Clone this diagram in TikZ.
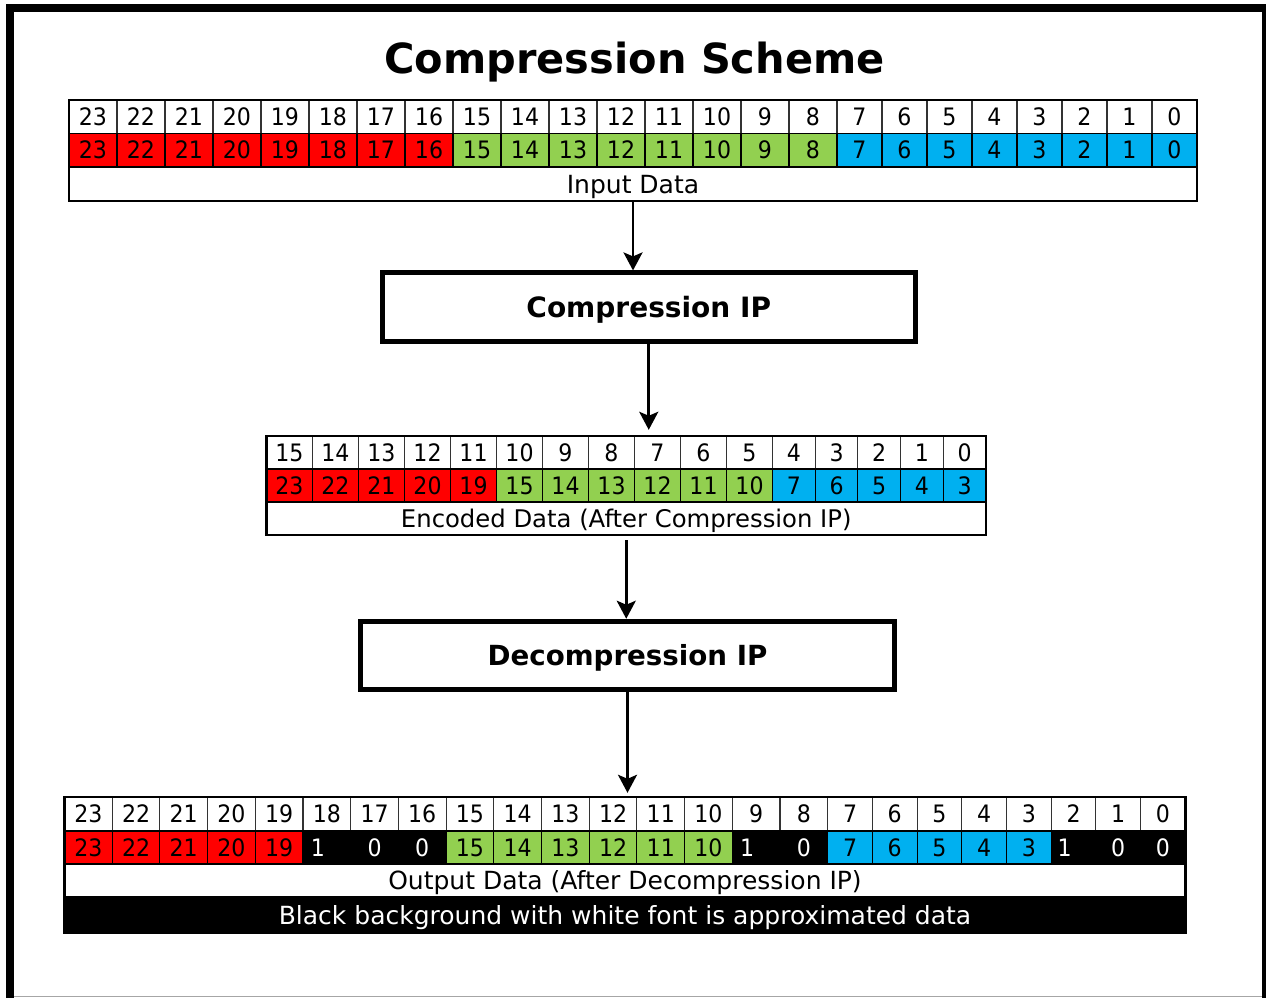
\documentclass[tikz,border=0pt]{standalone}
\usepackage{fontspec}
\setmainfont{DejaVu Sans}
\newfontfamily\digitfont[FakeStretch=0.92]{DejaVu Sans}
\usetikzlibrary{arrows.meta}
\definecolor{cred}{RGB}{255,0,0}
\definecolor{cgreen}{RGB}{146,208,80}
\definecolor{cblue}{RGB}{0,176,240}
\begin{document}
\begin{tikzpicture}[x=1pt,y=-1pt,
  cell/.style={draw=black, line width=1.1pt, inner sep=0pt, font=\digitfont\fontsize{24}{24}\selectfont, text height=17.5pt, text depth=0pt},
  hdr/.style={cell, fill=white, draw=black!80},
  lbl/.style={draw=black, line width=1.1pt, fill=white, inner sep=0pt, font=\fontsize{25}{25}\selectfont, text height=18.2pt, text depth=0pt},
  tframe/.style={draw=black, line width=2.4pt, inner sep=0pt},
  ipbox/.style={draw=black, line width=5pt, fill=white, inner sep=0pt, text height=20pt, text depth=0pt},
  arr/.style={-{Stealth[length=18pt,width=19pt,inset=4pt]}, line width=2.8pt}]
\useasboundingbox (0,0) rectangle (1266,998);
\fill[white] (0,0) rectangle (1266,998);
% outer frame
\draw[line width=8pt] (10,1010) -- (10,8) -- (1266,8) -- (1266,1010);
\draw[black!35, line width=1pt] (14,996.5) -- (1262,996.5);
% title
\node[font=\bfseries\fontsize{41.5}{41.5}\selectfont, text height=30.2pt, text depth=0pt, inner sep=0pt] (title) at (634.5,58) {Compression Scheme};
% ---------- input table ----------
\foreach \k in {0,...,23}{
  \pgfmathsetmacro{\l}{\k<16 ? 69+48*\k : 837+45*(\k-16)}
  \pgfmathsetmacro{\w}{\k<16 ? 48 : 45}
  \pgfmathsetmacro{\cx}{\l+\w/2}
  \pgfmathtruncatemacro{\v}{23-\k}
  \ifnum\k<8 \def\fc{cred}\else\ifnum\k<16 \def\fc{cgreen}\else\def\fc{cblue}\fi\fi
  \node[hdr, minimum width=\w pt, minimum height=33.5pt] (inh\v) at (\cx,116.5) {\v};
  \node[cell, fill=\fc, minimum width=\w pt, minimum height=33.5pt] (ind\v) at (\cx,150) {\v};
}
\node[lbl, minimum width=1128pt, minimum height=34pt] (inlbl) at (633,184) {Input Data};
\node[tframe, minimum width=1128pt, minimum height=101pt] (intab) at (633,150.5) {};
% ---------- compression box ----------
\node[ipbox, minimum width=533.5pt, minimum height=68.75pt, font=\bfseries\fontsize{28}{28}\selectfont] (comp) at (648.75,307.3) {Compression IP};
% ---------- encoded table ----------
\foreach \k in {0,...,15}{
  \pgfmathsetmacro{\l}{\k<11 ? 266.5+46*\k : 772.5+42.7*(\k-11)}
  \pgfmathsetmacro{\w}{\k<11 ? 46 : 42.7}
  \pgfmathsetmacro{\cx}{\l+\w/2}
  \pgfmathtruncatemacro{\h}{15-\k}
  \ifnum\k<5 \def\fc{cred}\pgfmathtruncatemacro{\v}{23-\k}\else
    \ifnum\k<11 \def\fc{cgreen}\pgfmathtruncatemacro{\v}{20-\k}\else
      \def\fc{cblue}\pgfmathtruncatemacro{\v}{18-\k}\fi\fi
  \node[hdr, minimum width=\w pt, minimum height=33pt] (ench\h) at (\cx,452.5) {\h};
  \node[cell, fill=\fc, minimum width=\w pt, minimum height=33pt] (encd\h) at (\cx,485.5) {\v};
}
\node[lbl, minimum width=719.5pt, minimum height=33pt, font=\fontsize{24.3}{24.3}\selectfont] (enclbl) at (626.25,518.5) {Encoded Data (After Compression IP)};
\node[tframe, minimum width=719.5pt, minimum height=99pt] (enctab) at (626.25,485.5) {};
% ---------- decompression box ----------
\node[ipbox, minimum width=533.5pt, minimum height=68.5pt, font=\bfseries\fontsize{27.7}{27.7}\selectfont] (dec) at (627.5,655.5) {Decompression IP};
% ---------- output table ----------
\foreach \k in {0,...,23}{
  \pgfmathsetmacro{\l}{\k<16 ? 64.5+47.7*\k : 827.7+44.7*(\k-16)}
  \pgfmathsetmacro{\w}{\k<16 ? 47.7 : 44.7}
  \pgfmathsetmacro{\cx}{\l+\w/2}
  \pgfmathtruncatemacro{\v}{23-\k}
  \def\fc{black}\def\tc{white}\def\txt{0}
  \ifnum\k<5 \def\fc{cred}\def\tc{black}\edef\txt{\v}\fi
  \ifnum\k=5 \def\txt{1\kern18pt}\fi
  \ifnum\k>7 \ifnum\k<14 \def\fc{cgreen}\def\tc{black}\edef\txt{\v}\fi\fi
  \ifnum\k=14 \def\txt{1\kern18pt}\fi
  \ifnum\k>15 \ifnum\k<21 \def\fc{cblue}\def\tc{black}\edef\txt{\v}\fi\fi
  \ifnum\k=21 \def\txt{1\kern18pt}\fi
  \node[hdr, minimum width=\w pt, minimum height=34pt] (outh\v) at (\cx,814) {\v};
  \node[cell, fill=\fc, draw=black, text=\tc, minimum width=\w pt, minimum height=33pt] (outd\v) at (\cx,847.5) {\txt};
}
\node[lbl, minimum width=1120.8pt, minimum height=33pt] (outlbl) at (625,880.5) {Output Data (After Decompression IP)};
\node[lbl, fill=black, text=white, minimum width=1120.8pt, minimum height=36pt] (note) at (625,915) {Black background with white font is approximated data};
\node[tframe, minimum width=1120.8pt, minimum height=136pt] (outtab) at (625,865) {};
% ---------- arrows ----------
\draw[arr] (intab.south) -- (intab.south |- comp.north);
\draw[arr, shorten >=5pt] (comp.south) -- (comp.south |- enctab.north);
\draw[arr, shorten <=4pt] (enctab.south) -- (enctab.south |- dec.north);
\draw[arr, shorten >=3pt] (dec.south) -- (dec.south |- outtab.north);
\end{tikzpicture}
\end{document}
